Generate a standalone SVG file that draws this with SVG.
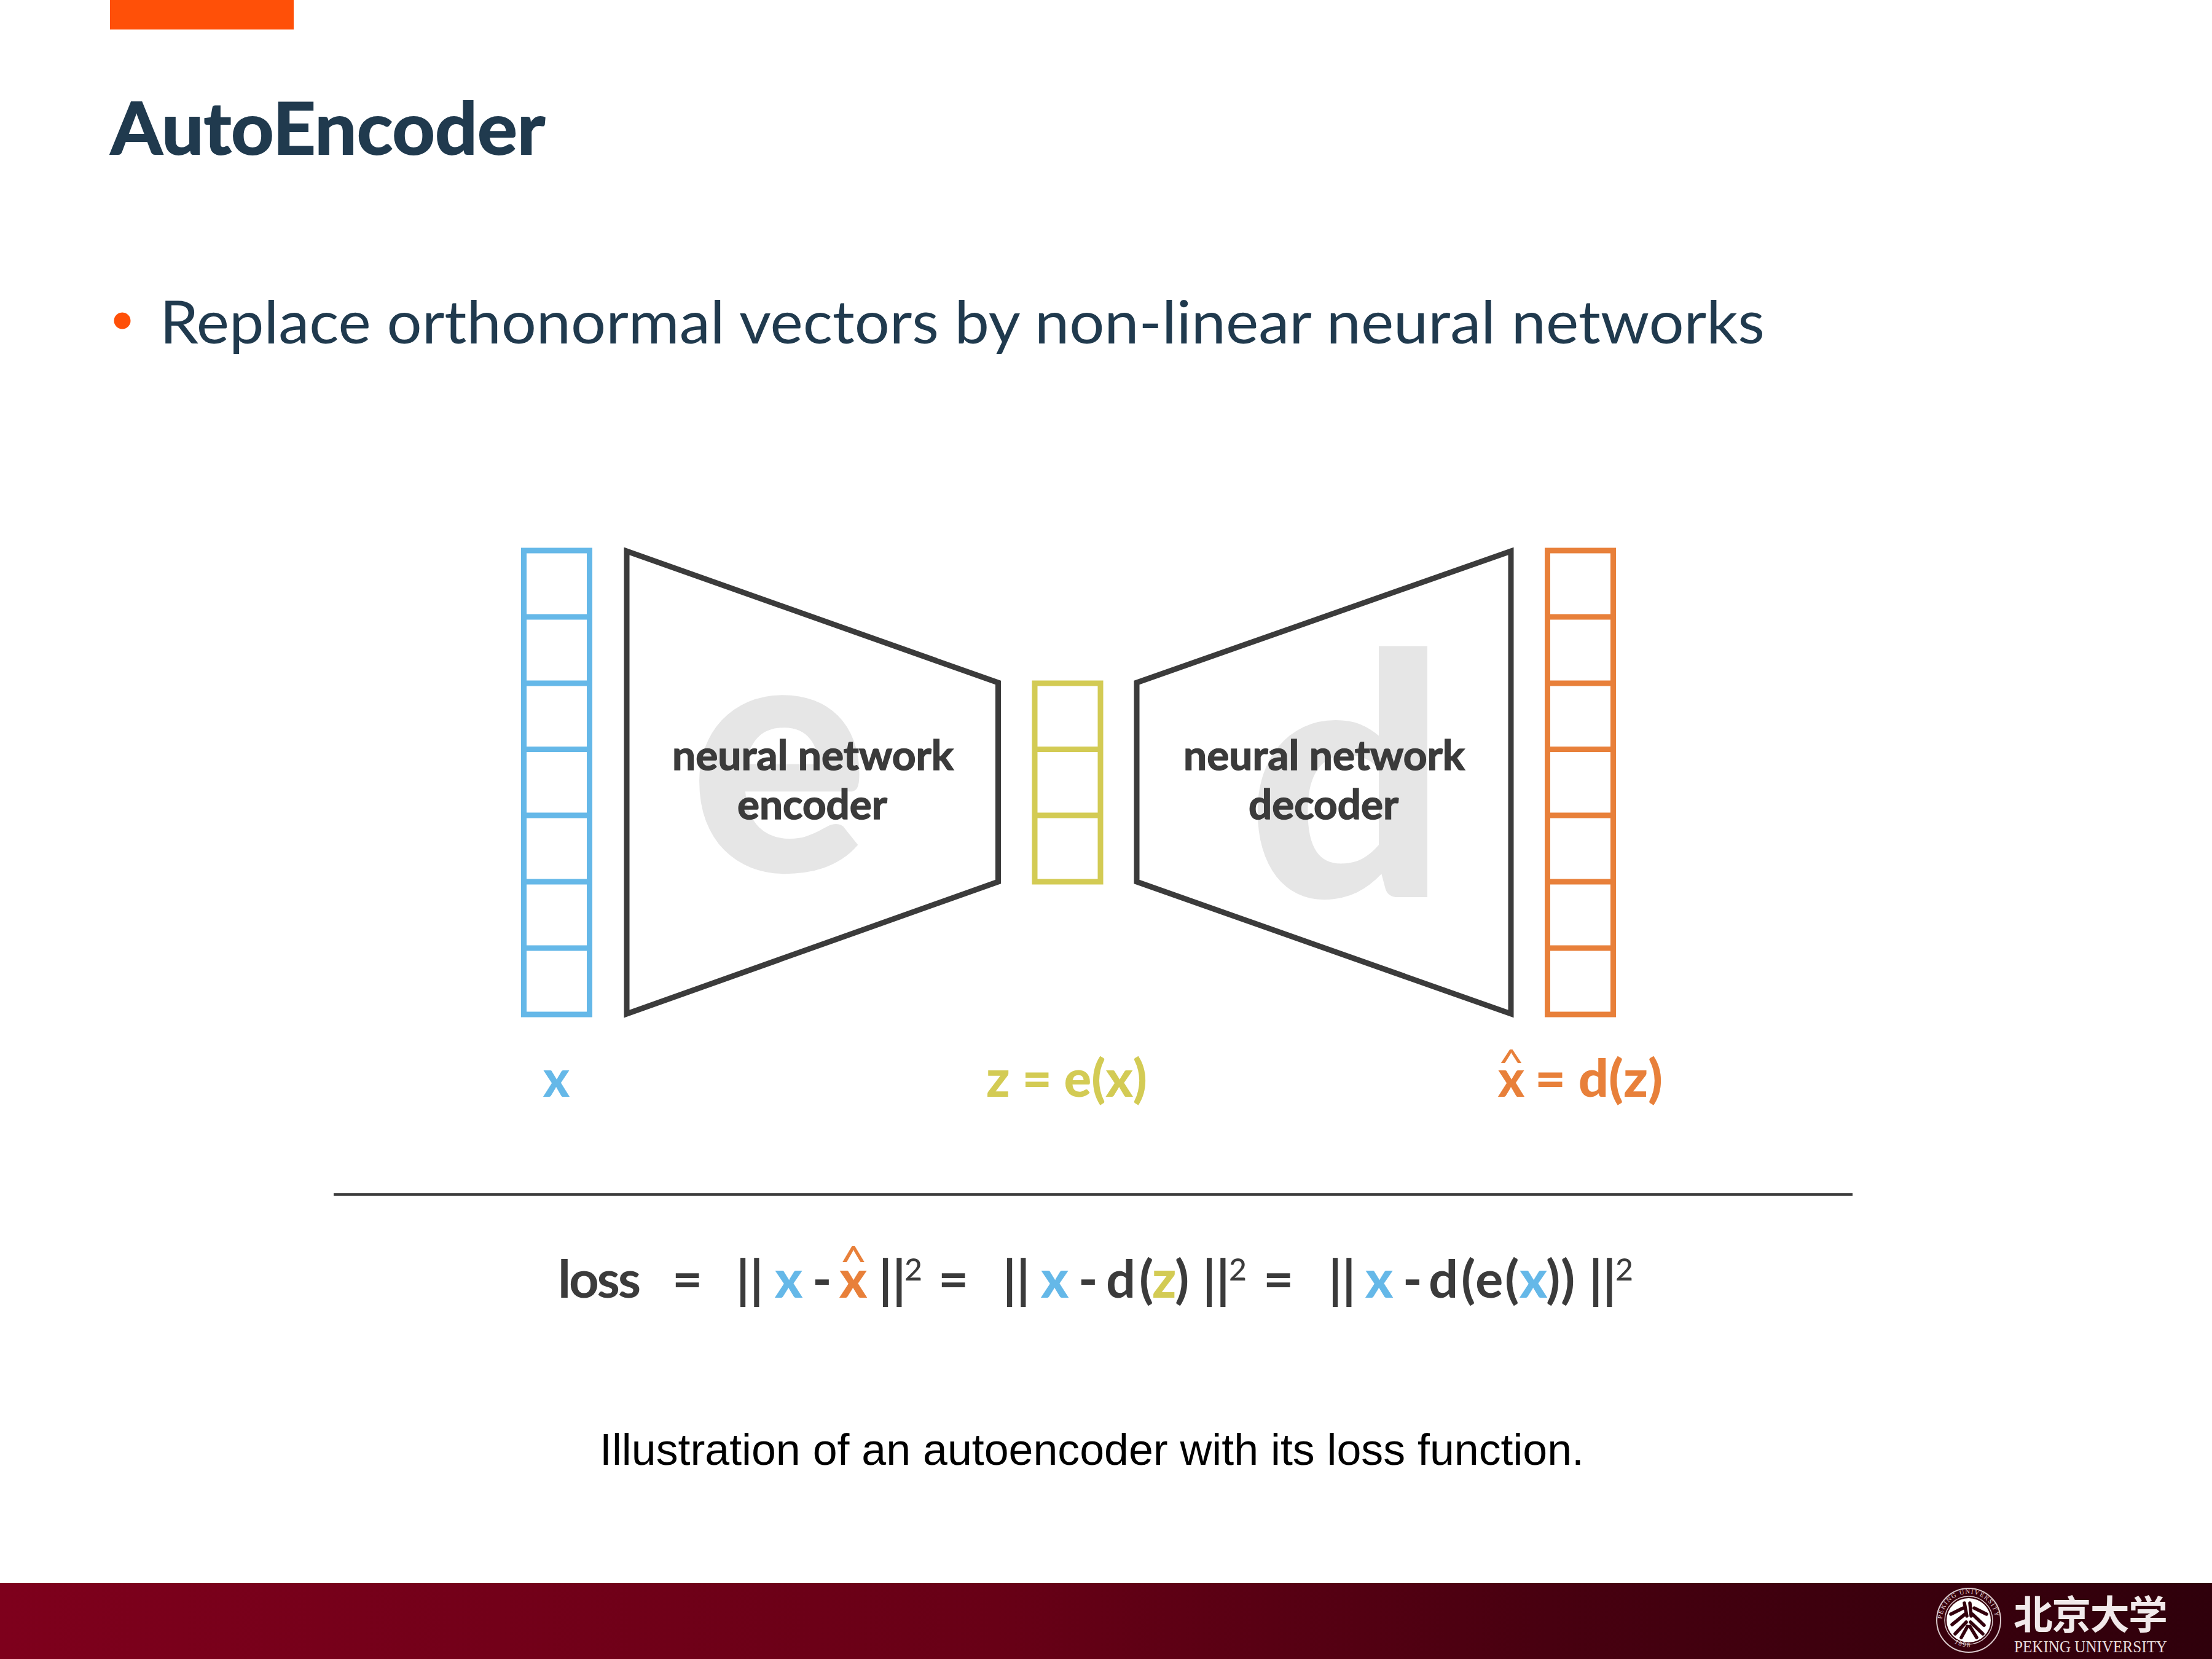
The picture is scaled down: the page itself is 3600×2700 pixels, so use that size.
<svg xmlns="http://www.w3.org/2000/svg" width="3600" height="2700" viewBox="0 0 3600 2700">
<style>
text{font-family:"Lato","Noto Sans",sans-serif}
.cell{fill:none;stroke-width:9}
.blue{stroke:#65b8e8}.yel{stroke:#d3cb54}.org{stroke:#e8803a}
.trap{fill:none;stroke:#3b3b3b;stroke-width:9}
.ghost{fill:#e6e6e6;font-weight:900;font-size:548px}
.nn{fill:#3b3b3b;stroke:#3b3b3b;stroke-width:1.500px;font-weight:700;font-size:67px;text-anchor:middle}
.lab{font-weight:900;font-size:84px}
.caret{font-weight:400;font-size:60px}
.b{fill:#65b8e8}.y{fill:#d3cb54}.o{fill:#e8803a}
.eq{fill:#3b3b3b;font-size:85px;font-weight:700}
.eqb{font-weight:900}
.sup{fill:#3b3b3b;font-size:50px;font-weight:500}
.mark{fill:none;stroke:#33000d;stroke-width:5.5;stroke-linecap:round}
</style>
<defs>
<linearGradient id="foot" x1="0" x2="1" y1="0" y2="0">
<stop offset="0" stop-color="#7e001c"/>
<stop offset="0.45" stop-color="#680016"/>
<stop offset="0.7" stop-color="#480010"/>
<stop offset="1" stop-color="#2f000b"/>
</linearGradient>
<path id="ringTop" d="M3160.500 2637A43.500 43.500 0 0 1 3247.500 2637"/>
<path id="ringBot" d="M3178 2672A43.500 43.500 0 0 0 3230 2672"/>
</defs>
<rect width="3600" height="2700" fill="#fff"/>
<g id="header">
<rect x="179" y="0" width="299" height="48" fill="#ff5008"/>
<text x="180" y="251" font-size="116" font-weight="700" fill="#203a4e" stroke="#203a4e" stroke-width="2" textLength="707" lengthAdjust="spacingAndGlyphs">AutoEncoder</text>
<circle cx="199" cy="522" r="13.500" fill="#ff5008"/>
<text x="260" y="559" font-size="96" fill="#203a4e" textLength="2612" lengthAdjust="spacingAndGlyphs">Replace orthonormal vectors by non-linear neural networks</text>
</g>
<g id="input-x">
<rect class="cell blue" x="852.500" y="896" width="107" height="755"/>
<path class="cell blue" d="M848 1004H964M848 1112H964M848 1219.500H964M848 1327H964M848 1435H964M848 1543H964"/>
<text class="lab b" x="884" y="1785" textLength="43" lengthAdjust="spacingAndGlyphs">x</text>
</g>
<g id="encoder">
<text class="ghost" x="1122" y="1418" textLength="292" lengthAdjust="spacingAndGlyphs">e</text>
<path class="trap" d="M1020 897L1624.500 1111V1435L1020 1650Z"/>
<text class="nn" x="1323" y="1253" textLength="458" lengthAdjust="spacingAndGlyphs">neural network</text>
<text class="nn" x="1322" y="1333" textLength="244" lengthAdjust="spacingAndGlyphs">encoder</text>
</g>
<g id="latent-z">
<rect class="cell yel" x="1684" y="1112" width="107" height="323"/>
<path class="cell yel" d="M1680 1219.500H1795M1680 1327H1795"/>
<text class="lab y" x="1605" y="1785" textLength="262" lengthAdjust="spacingAndGlyphs">z = e(x)</text>
</g>
<g id="decoder">
<text class="ghost" x="2029" y="1460" textLength="327" lengthAdjust="spacingAndGlyphs">d</text>
<path class="trap" d="M2459 897L1850 1111V1435L2459 1650Z"/>
<text class="nn" x="2155" y="1253" textLength="458" lengthAdjust="spacingAndGlyphs">neural network</text>
<text class="nn" x="2154" y="1333" textLength="244" lengthAdjust="spacingAndGlyphs">decoder</text>
</g>
<g id="output-xhat">
<rect class="cell org" x="2518.500" y="896" width="107" height="755"/>
<path class="cell org" d="M2514 1004H2630M2514 1112H2630M2514 1219.500H2630M2514 1327H2630M2514 1435H2630M2514 1543H2630"/>
<text class="lab o" x="2438" y="1785" textLength="43" lengthAdjust="spacingAndGlyphs">x</text>
<text class="caret o" x="2438" y="1751" textLength="43" lengthAdjust="spacingAndGlyphs">^</text>
<text class="lab o" x="2498" y="1785" textLength="208" lengthAdjust="spacingAndGlyphs">= d(z)</text>
</g>
<g id="connectors">
<path d="M543 1944H3015" stroke="#3b3b3b" stroke-width="4" fill="none"/>
</g>
<g id="loss">
<text class="eq" y="2112"><tspan x="908" textLength="135">loss</tspan><tspan x="1094">=</tspan><tspan x="1198">||</tspan><tspan class="b eqb" x="1261">x</tspan><tspan x="1322">-</tspan><tspan class="o eqb" x="1366">x</tspan><tspan x="1430">||</tspan><tspan x="1527">=</tspan><tspan x="1632">||</tspan><tspan class="b eqb" x="1694">x</tspan><tspan x="1755">-</tspan><tspan x="1800">d</tspan><tspan x="1854">(</tspan><tspan class="y eqb" x="1875">z</tspan><tspan x="1912">)</tspan><tspan x="1957">||</tspan><tspan x="2056">=</tspan><tspan x="2162">||</tspan><tspan class="b eqb" x="2222">x</tspan><tspan x="2283">-</tspan><tspan x="2325">d</tspan><tspan x="2378">(</tspan><tspan x="2401">e</tspan><tspan x="2449">(</tspan><tspan class="b eqb" x="2473">x</tspan><tspan x="2516">)</tspan><tspan x="2540">)</tspan><tspan x="2586">||</tspan></text>
<text class="o" font-size="70" x="1366" y="2078" textLength="46" lengthAdjust="spacingAndGlyphs">^</text>
<text class="sup" x="1472" y="2084">2</text>
<text class="sup" x="2000" y="2084">2</text>
<text class="sup" x="2629" y="2084">2</text>
</g>
<g id="caption">
<text x="976" y="2384" font-size="73" fill="#000" style="font-family:'Liberation Sans',Arial,sans-serif" textLength="1602" lengthAdjust="spacingAndGlyphs">Illustration of an autoencoder with its loss function.</text>
</g>
<g id="footer">
<rect x="0" y="2576" width="3600" height="124" fill="url(#foot)"/>
<circle cx="3204" cy="2637" r="52" fill="none" stroke="#d9c8cc" stroke-width="2"/>
<circle cx="3204" cy="2637" r="36" fill="#fff"/>
<circle cx="3204" cy="2637" r="39" fill="none" stroke="#d9c8cc" stroke-width="1.500"/>
<text font-size="10.500" fill="#e4d6d9" letter-spacing="1.500" style="font-family:'Liberation Serif',serif"><textPath href="#ringTop" startOffset="2">PEKING UNIVERSITY</textPath></text>
<text font-size="10.500" fill="#e4d6d9" letter-spacing="2" style="font-family:'Liberation Serif',serif"><textPath href="#ringBot" startOffset="3">1898</textPath></text>
<path class="mark" d="M3197 2609L3201 2630M3206 2609L3208 2630M3175 2627L3195 2617M3177 2644L3198 2627M3233 2627L3213 2617M3229 2645L3210 2627M3182 2659L3200 2640M3192 2665L3202 2647M3227 2659L3207 2640M3217 2665L3206 2647"/>
<text x="3277" y="2651" font-size="64" font-weight="700" fill="#f1e9ea" style="font-family:'Noto Sans CJK SC',sans-serif" textLength="251" lengthAdjust="spacing">北京大学</text>
<text x="3278" y="2689" font-size="27" fill="#e8dcdc" style="font-family:'Liberation Serif',serif" textLength="249" lengthAdjust="spacingAndGlyphs">PEKING UNIVERSITY</text>
</g>
</svg>
